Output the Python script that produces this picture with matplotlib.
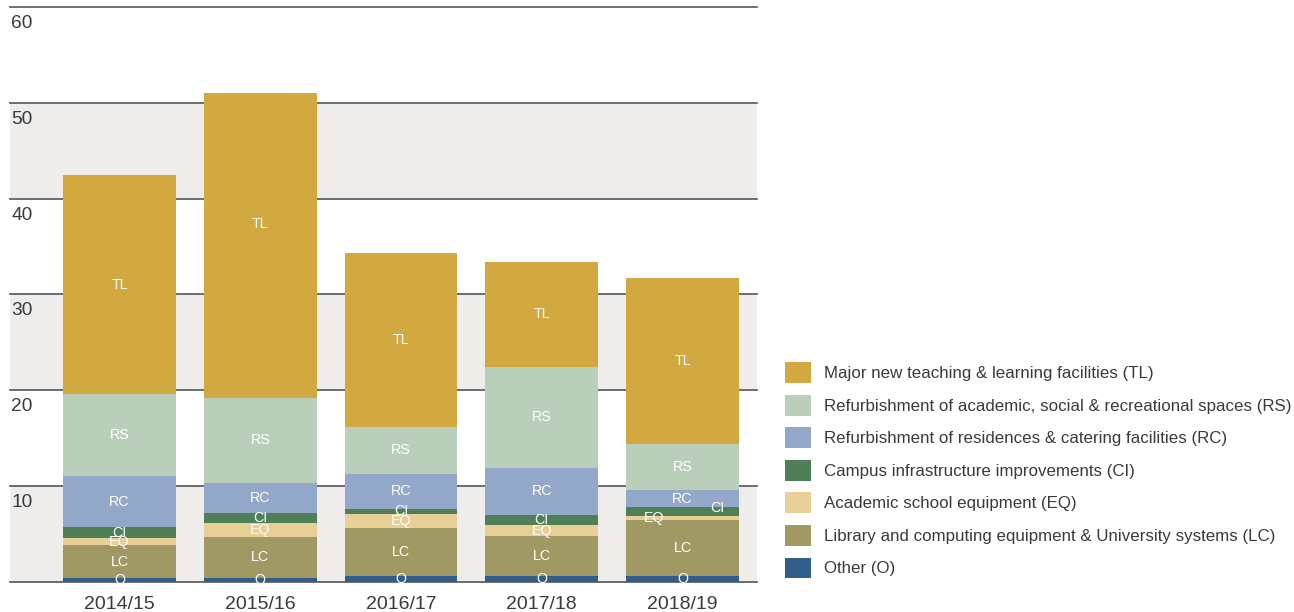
import numpy as np
import matplotlib
matplotlib.use("Agg")
import matplotlib.pyplot as plt

plt.rcParams['font.family'] = ['Liberation Sans', 'DejaVu Sans']

# --- data (GBP m) ---
years = ["2014/15", "2015/16", "2016/17", "2017/18", "2018/19"]
# stacked bottom -> top
codes = ["O", "LC", "EQ", "CI", "RC", "RS", "TL"]
names = [
    "Other (O)",
    "Library and computing equipment & University systems (LC)",
    "Academic school equipment (EQ)",
    "Campus infrastructure improvements (CI)",
    "Refurbishment of residences & catering facilities (RC)",
    "Refurbishment of academic, social & recreational spaces (RS)",
    "Major new teaching & learning facilities (TL)",
]
O_vals = [0.35, 0.42, 0.60, 0.60, 0.60]
LC_vals = [3.48, 4.25, 5.00, 4.17, 5.84]
EQ_vals = [0.73, 1.46, 1.47, 1.15, 0.42]
CI_vals = [1.12, 1.07, 0.52, 1.04, 0.94]
RC_vals = [5.35, 3.13, 3.68, 4.94, 1.77]
RS_vals = [8.57, 8.87, 4.88, 10.50, 4.83]
TL_vals = [22.85, 31.80, 18.15, 11.00, 17.30]
yticks = [10, 20, 30, 40, 50, 60]

colors = ["#315d8b", "#a19964", "#e8cf98", "#4e7f56", "#93a8c8", "#bacfba", "#d1a940"]

# a few labels in the original are nudged off-centre
label_nudge = {(1, "TL"): (0.0, 2.2), (4, "EQ"): (-0.2, 0.0), (4, "CI"): (0.25, 0.4)}

W, H = 1294, 612
fig = plt.figure(figsize=(W / 100, H / 100), dpi=100)
ax = fig.add_axes([10 / W, 1 - 581.7 / H, 747 / W, (581.7 - 7) / H])

x = np.arange(len(years))
ax.set_xlim(-0.778, 4.529)
ax.set_ylim(0, 60)

# background bands + grid lines
for lo in (0, 20, 40):
    ax.axhspan(lo, lo + 10, color="#eeedeb", lw=0, zorder=0)
for t in [0] + yticks:
    ax.axhline(t, color="#555555", lw=1.2, zorder=1, clip_on=False)
for t in yticks:
    ax.text(0.0015, t - 0.85, str(t), transform=ax.get_yaxis_transform(),
            ha="left", va="top", fontsize=13.8, color="#3a3a3a")

series = [O_vals, LC_vals, EQ_vals, CI_vals, RC_vals, RS_vals, TL_vals]
bottom = np.zeros(len(years))
handles = []
for code, name, vals, col in zip(codes, names, series, colors):
    vals = np.array(vals)
    bars = ax.bar(x, vals, 0.8, bottom=bottom, color=col, label=name,
                  edgecolor="none", zorder=2)
    handles.append(bars)
    for i in range(len(years)):
        dx, dy = label_nudge.get((i, code), (0.0, 0.0))
        ax.text(x[i] + dx, bottom[i] + vals[i] / 2 + dy, code, ha="center",
                va="center", color="white", fontsize=10.3, zorder=3)
    bottom += vals

ax.set_xticks(x)
ax.set_xticklabels(years, fontsize=14, color="#3a3a3a")
ax.tick_params(axis="x", length=0, pad=10)
ax.set_yticks([])
for s in ax.spines.values():
    s.set_visible(False)

fig.legend(handles[::-1], names[::-1], loc="upper left",
           bbox_to_anchor=(785 / W, 1 - 362.3 / H), frameon=False,
           fontsize=12.2, borderpad=0, borderaxespad=0,
           handlelength=1.53, handleheight=1.5, labelspacing=0.7,
           handletextpad=0.76, labelcolor="#3a3a3a")

fig.savefig("out.png", dpi=100)
